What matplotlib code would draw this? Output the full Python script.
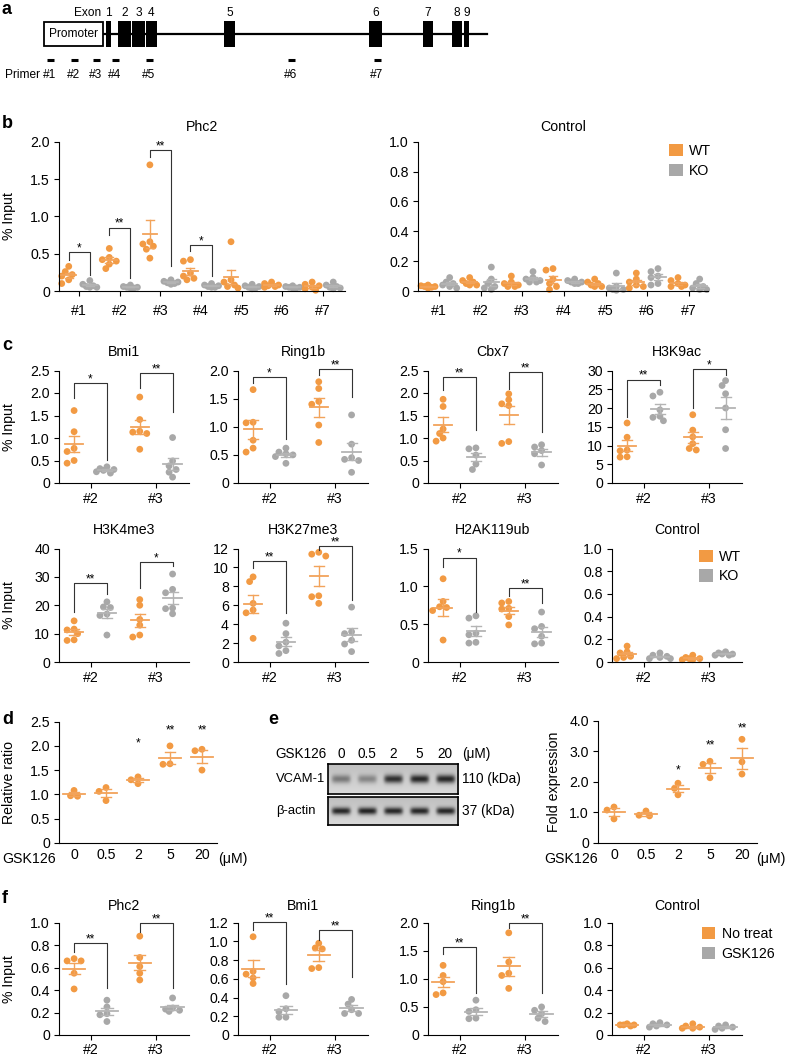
import numpy as np
import matplotlib
matplotlib.use('Agg')
import matplotlib.pyplot as plt
from matplotlib.patches import Rectangle, Patch
from matplotlib import font_manager

plt.rcParams['font.family'] = ['Liberation Sans', 'DejaVu Sans']
plt.rcParams['font.size'] = 10.2
plt.rcParams['axes.linewidth'] = 0.8
plt.rcParams['xtick.labelsize'] = 10.2
plt.rcParams['ytick.labelsize'] = 10.2

installed = {f.name for f in font_manager.fontManager.ttflist}
if 'Liberation Sans Narrow' in installed:
    NARROW = dict(family=['Liberation Sans Narrow', 'DejaVu Sans'], fontsize=9.6)
else:
    NARROW = dict(family=['Liberation Sans', 'DejaVu Sans'], fontsize=8.6)

ORANGE = '#F29A43'
ORANGE_LINE = '#F2A35A'
GRAY = '#A8A8A8'
GRAY_LINE = '#B4B4B4'

# ---- panel a: gene schematic (positions along the locus) ----
promoter_span = (44, 103)
gene_line = (103, 487)
exon_start = [106, 118, 132, 146, 224, 369, 423, 452, 464]
exon_end = [111, 131, 145, 157, 235, 382, 433, 462, 469]
exon_labels = ['1', '2', '3', '4', '5', '6', '7', '8', '9']
primer_pos = [50, 74, 96, 115, 149, 291, 377]
primer_labels = ['#1', '#2', '#3', '#4', '#5', '#6', '#7']

# ---- panel b ----
b_sites = ['#1', '#2', '#3', '#4', '#5', '#6', '#7']
b_phc2_wt = [
    [0.33, 0.26, 0.22, 0.20, 0.15, 0.10],
    [0.57, 0.45, 0.42, 0.40, 0.36, 0.30],
    [1.69, 0.66, 0.63, 0.60, 0.56, 0.44],
    [0.42, 0.40, 0.24, 0.20, 0.17, 0.15],
    [0.66, 0.15, 0.12, 0.08, 0.06, 0.04],
    [0.12, 0.10, 0.08, 0.07, 0.06, 0.05],
    [0.12, 0.09, 0.07, 0.05, 0.03, 0.01],
]
b_phc2_ko = [
    [0.14, 0.09, 0.07, 0.06, 0.05, 0.05],
    [0.08, 0.06, 0.05, 0.05, 0.04, 0.04],
    [0.15, 0.13, 0.12, 0.11, 0.10, 0.09],
    [0.10, 0.08, 0.07, 0.06, 0.05, 0.05],
    [0.09, 0.07, 0.06, 0.05, 0.04, 0.03],
    [0.07, 0.06, 0.05, 0.05, 0.04, 0.04],
    [0.12, 0.08, 0.06, 0.05, 0.04, 0.03],
]
b_phc2_brackets = [(0, 0.52, 0.41, 0.22, '*'), (1, 0.85, 0.75, 0.18, '**'),
                   (2, 1.89, 1.80, 0.33, '**'), (3, 0.62, 0.53, 0.20, '*')]
b_ctrl_wt = [
    [0.04, 0.035, 0.03, 0.03, 0.025, 0.02],
    [0.09, 0.07, 0.06, 0.05, 0.04, 0.04],
    [0.10, 0.06, 0.05, 0.04, 0.03, 0.03],
    [0.15, 0.14, 0.08, 0.05, 0.03, 0.01],
    [0.08, 0.06, 0.05, 0.04, 0.03, 0.03],
    [0.12, 0.08, 0.06, 0.04, 0.03, 0.02],
    [0.09, 0.07, 0.05, 0.04, 0.03, 0.03],
]
b_ctrl_ko = [
    [0.09, 0.06, 0.05, 0.04, 0.03, 0.02],
    [0.16, 0.08, 0.05, 0.03, 0.02, 0.01],
    [0.13, 0.09, 0.08, 0.07, 0.06, 0.06],
    [0.08, 0.07, 0.06, 0.06, 0.05, 0.05],
    [0.12, 0.03, 0.02, 0.01, 0.01, 0.005],
    [0.15, 0.13, 0.10, 0.09, 0.05, 0.04],
    [0.08, 0.05, 0.03, 0.02, 0.01, 0.01],
]

# ---- panel c ----
c_sites = ['#2', '#3']
bmi1_wt = [[1.61, 1.14, 0.77, 0.70, 0.50, 0.44], [1.91, 1.41, 1.15, 1.13, 1.10, 0.75]]
bmi1_ko = [[0.36, 0.32, 0.30, 0.28, 0.25, 0.22], [1.01, 0.49, 0.38, 0.30, 0.24, 0.13]]
bmi1_brackets = [(0, 2.23, 1.88, 0.51, '*'), (1, 2.45, 2.12, 1.58, '**')]
ring1b_wt = [[1.66, 1.08, 1.07, 0.76, 0.62, 0.55], [1.80, 1.68, 1.45, 1.40, 1.03, 0.72]]
ring1b_ko = [[0.62, 0.55, 0.52, 0.50, 0.47, 0.35], [1.21, 0.69, 0.45, 0.42, 0.40, 0.19]]
ring1b_brackets = [(0, 1.89, 1.77, 0.79, '*'), (1, 2.02, 1.92, 1.53, '**')]
cbx7_wt = [[1.86, 1.70, 1.20, 1.10, 1.00, 0.93], [1.98, 1.85, 1.76, 1.72, 0.92, 0.88]]
cbx7_ko = [[0.78, 0.76, 0.62, 0.42, 0.30], [0.85, 0.80, 0.72, 0.65, 0.40]]
cbx7_brackets = [(0, 2.36, 2.07, 1.18, '**'), (1, 2.47, 2.10, 1.14, '**')]
h3k9ac_wt = [[16.0, 12.2, 8.8, 8.6, 7.0, 6.9], [18.2, 14.1, 12.3, 10.5, 9.2, 8.8]]
h3k9ac_ko = [[24.2, 23.2, 19.5, 17.8, 17.5, 16.6], [27.3, 26.0, 23.8, 20.0, 14.2, 9.2]]
h3k9ac_brackets = [(0, 27.6, 17.7, 26.1, '**'), (1, 30.4, 19.9, 28.8, '*')]
h3k4me3_wt = [[14.5, 11.6, 11.3, 10.0, 7.8, 7.6], [22.0, 20.0, 15.0, 13.0, 9.5, 8.8]]
h3k4me3_ko = [[21.2, 19.4, 19.2, 16.9, 16.4, 9.5], [31.0, 25.6, 24.4, 19.0, 18.8, 17.0]]
h3k4me3_brackets = [(0, 27.7, 17.5, 24.0, '**'), (1, 35.3, 26.0, 33.9, '*')]
h3k27me3_wt = [[9.0, 8.5, 6.2, 5.5, 5.2, 2.5], [11.6, 11.4, 11.2, 7.0, 6.9, 6.2]]
h3k27me3_ko = [[4.1, 3.0, 2.1, 1.7, 1.2, 0.9], [5.8, 3.2, 3.0, 2.3, 1.9, 1.1]]
h3k27me3_brackets = [(0, 10.7, 9.9, 5.15, '**'), (1, 12.3, 11.8, 6.55, '**')]
h2ak119ub_wt = [[1.10, 0.80, 0.73, 0.72, 0.68, 0.29], [0.80, 0.78, 0.71, 0.70, 0.60, 0.49]]
h2ak119ub_ko = [[0.61, 0.58, 0.38, 0.36, 0.26, 0.25], [0.66, 0.47, 0.44, 0.34, 0.25, 0.24]]
h2ak119ub_brackets = [(0, 1.38, 1.26, 0.66, '*'), (1, 0.98, 0.87, 0.78, '**')]
c_ctrl_wt = [[0.14, 0.09, 0.08, 0.05, 0.04, 0.03], [0.06, 0.04, 0.03, 0.03, 0.02, 0.02]]
c_ctrl_ko = [[0.08, 0.06, 0.05, 0.04, 0.03, 0.03], [0.09, 0.08, 0.07, 0.07, 0.06, 0.06]]

# ---- panels d / e ----
gsk_doses = ['0', '0.5', '2', '5', '20']
d_ratio = [[1.08, 0.97, 0.96], [1.14, 1.06, 0.87], [1.36, 1.30, 1.22],
           [2.00, 1.62, 1.63], [1.93, 1.90, 1.50]]
d_stars = ['', '', '*', '**', '**']
d_star_y = [0, 0, 1.98, 2.25, 2.25]
e_fold = [[1.17, 1.07, 0.78], [1.04, 0.90, 0.88], [1.95, 1.78, 1.57],
          [2.67, 2.57, 2.13], [3.39, 2.65, 2.25]]
e_stars = ['', '', '*', '**', '**']
e_star_y = [0, 0, 2.26, 3.08, 3.64]
vcam_level = [0.45, 0.38, 0.85, 0.9, 0.9]
actin_level = [0.9, 0.92, 0.9, 0.9, 0.9]

# ---- panel f ----
f_phc2_wt = [[0.68, 0.66, 0.66, 0.55, 0.41], [0.88, 0.69, 0.61, 0.55, 0.49]]
f_phc2_ko = [[0.31, 0.25, 0.19, 0.18, 0.12], [0.33, 0.24, 0.23, 0.22, 0.21]]
f_phc2_brackets = [(0, 0.82, 0.74, 0.42, '**'), (1, 1.0, 0.92, 0.42, '**')]
f_bmi1_wt = [[1.05, 0.68, 0.65, 0.61, 0.55], [0.98, 0.93, 0.92, 0.72, 0.71]]
f_bmi1_ko = [[0.42, 0.28, 0.25, 0.19, 0.19], [0.38, 0.33, 0.27, 0.23, 0.23]]
f_bmi1_brackets = [(0, 1.21, 1.12, 0.55, '**'), (1, 1.12, 1.02, 0.62, '**')]
f_ring1b_wt = [[1.24, 1.06, 0.95, 0.75, 0.72], [1.82, 1.30, 1.10, 1.06, 0.83]]
f_ring1b_ko = [[0.62, 0.45, 0.42, 0.30, 0.29], [0.50, 0.44, 0.38, 0.30, 0.24]]
f_ring1b_brackets = [(0, 1.57, 1.45, 0.75, '**'), (1, 1.99, 1.90, 0.75, '**')]
f_ctrl_wt = [[0.10, 0.09, 0.09, 0.09, 0.08], [0.10, 0.08, 0.07, 0.06, 0.06]]
f_ctrl_ko = [[0.11, 0.10, 0.09, 0.08, 0.07], [0.09, 0.08, 0.07, 0.06, 0.05]]

W, H = 786, 1056
fig = plt.figure(figsize=(W / 100, H / 100), dpi=100)


def add_ax(left, top, width, height):
    return fig.add_axes([left / W, 1 - (top + height) / H, width / W, height / H])


def fig_text(x, y, s, **kw):
    fig.text(x / W, 1 - y / H, s, **kw)


def style_axes(ax, xlabels, xlim, ymax, ystep, yfmt, xpad, xlen=3.5):
    ax.set_xlim(*xlim)
    ax.set_ylim(0, ymax)
    ax.spines[['top', 'right']].set_visible(False)
    ax.set_xticks(range(len(xlabels)))
    ax.set_xticklabels(xlabels)
    yt = np.arange(0, ymax + ystep / 2, ystep)
    ax.set_yticks(yt)
    ax.set_yticklabels(['0'] + [yfmt.format(v) for v in yt[1:]])
    ax.tick_params(axis='y', direction='out', length=3.5, width=0.8, pad=3)
    ax.tick_params(axis='x', direction='out', length=xlen, width=0.8, pad=xpad)


def ylabel_at(ax, text, px_right):
    ax.set_ylabel(text, fontsize=10.2)
    bb = ax.get_position()
    ax.yaxis.set_label_coords((px_right / W - bb.x0) / bb.width, 0.5)


def swarm_x(ax, x0, vals, max_k, d=7.0):
    # simple beeswarm: put each dot at the first horizontal slot that does not collide
    pts = ax.transData.transform(np.column_stack([np.full(len(vals), x0), vals]))
    px0 = pts[0, 0]
    ys = pts[:, 1]
    xs = np.zeros(len(vals))
    placed = []
    slots = [0]
    for k in range(1, max_k + 1):
        slots += [-k, k]
    for i in np.argsort(-ys):
        best, best_score = px0, -1.0
        for k in slots:
            cx = px0 + k * d * 0.5
            score = min((np.hypot(cx - px, ys[i] - py) for px, py in placed), default=1e9)
            if score >= d * 0.8:
                best = cx
                break
            if score > best_score:
                best, best_score = cx, score
        placed.append((best, ys[i]))
        xs[i] = best
    return ax.transData.inverted().transform(np.column_stack([xs, ys]))[:, 0]


def draw_dots(ax, x, vals, color, line_color, mean_hw, cap_hw, max_k=3):
    vals = np.asarray(vals, dtype=float)
    xs = swarm_x(ax, x, vals, max_k)
    ax.scatter(xs, vals, s=24, color=color, edgecolors='none', zorder=2, clip_on=False)
    m = vals.mean()
    sem = vals.std(ddof=1) / np.sqrt(len(vals))
    ax.plot([x - mean_hw, x + mean_hw], [m, m], color=line_color, lw=1.3, zorder=3)
    ax.plot([x, x], [m - sem, m + sem], color=line_color, lw=1.0, zorder=3)
    for yy in (m - sem, m + sem):
        ax.plot([x - cap_hw, x + cap_hw], [yy, yy], color=line_color, lw=1.0, zorder=3)


def draw_pairs(ax, wt, ko, off, mean_hw, cap_hw, max_k=3):
    for i in range(len(wt)):
        draw_dots(ax, i - off, wt[i], ORANGE, ORANGE_LINE, mean_hw, cap_hw, max_k)
        draw_dots(ax, i + off, ko[i], GRAY, GRAY_LINE, mean_hw, cap_hw, max_k)


def draw_brackets(ax, brackets, off):
    for site, top, lb, rb, mark in brackets:
        xl, xr = site - off, site + off
        ax.plot([xl, xl, xr, xr], [lb, top, top, rb], color='#333333', lw=0.8,
                clip_on=False, zorder=4)
        ax.annotate(mark, ((xl + xr) / 2, top), xytext=(0, 0.5), textcoords='offset points',
                    ha='center', va='baseline', fontsize=8.5, annotation_clip=False)


def add_legend(ax, labels, x, y):
    handles = [Patch(facecolor=ORANGE, edgecolor='none'), Patch(facecolor=GRAY, edgecolor='none')]
    ax.legend(handles, labels, loc='upper left', bbox_to_anchor=(x, y), frameon=False,
              borderaxespad=0, borderpad=0, handlelength=0.95, handleheight=0.95,
              handletextpad=0.45, labelspacing=0.4, fontsize=10.2)


# ---------------- panel a ----------------
ax_a = add_ax(0, 0, W, 88)
ax_a.set_xlim(0, W)
ax_a.set_ylim(88, 0)
ax_a.axis('off')
ax_a.plot(gene_line, [33.5, 33.5], color='black', lw=1.6, zorder=1)
ax_a.add_patch(Rectangle((promoter_span[0], 21.7), promoter_span[1] - promoter_span[0], 24,
                         facecolor='white', edgecolor='black', lw=1.3, zorder=2))
ax_a.text(sum(promoter_span) / 2, 34, 'Promoter', ha='center', va='center', **NARROW)
for s, e, lab in zip(exon_start, exon_end, exon_labels):
    ax_a.add_patch(Rectangle((s, 21), e - s, 25.5, facecolor='black', lw=0, zorder=2))
    ax_a.text((s + e) / 2, 13, lab, ha='center', va='center', **NARROW)
ax_a.text(87.5, 13, 'Exon', ha='center', va='center', **NARROW)
for p, lab in zip(primer_pos, primer_labels):
    ax_a.plot([p - 3.5, p + 3.5], [60, 60], color='black', lw=2.2, solid_capstyle='butt')
    ax_a.text(p, 75, lab, ha='center', va='center', **NARROW)
ax_a.text(5, 75, 'Primer', ha='left', va='center', **NARROW)

# ---------------- panel b ----------------
ax = add_ax(59, 141.7, 286, 149.3)
style_axes(ax, b_sites, (-0.5, 6.55), 2.0, 0.5, '{:.1f}', xpad=6.0)
draw_pairs(ax, b_phc2_wt, b_phc2_ko, 0.26, 0.18, 0.1, max_k=2)
draw_brackets(ax, b_phc2_brackets, 0.26)
ax.set_title('Phc2', fontsize=10.2, pad=7.5)
ylabel_at(ax, '% Input', 16)

ax = add_ax(418, 141.7, 290, 149.3)
style_axes(ax, b_sites, (-0.5, 6.46), 1.0, 0.2, '{:.1f}', xpad=6.0)
draw_pairs(ax, b_ctrl_wt, b_ctrl_ko, 0.26, 0.18, 0.1, max_k=2)
ax.set_title('Control', fontsize=10.2, pad=7.5)
add_legend(ax, ['WT', 'KO'], 0.866, 0.985)

# ---------------- panel c ----------------
c_lefts = [59, 238, 428, 612]
c_rows = [
    (370.5, 112.5, [
        ('Bmi1', bmi1_wt, bmi1_ko, bmi1_brackets, 2.5, 0.5, '{:.1f}'),
        ('Ring1b', ring1b_wt, ring1b_ko, ring1b_brackets, 2.0, 0.5, '{:.1f}'),
        ('Cbx7', cbx7_wt, cbx7_ko, cbx7_brackets, 2.5, 0.5, '{:.1f}'),
        ('H3K9ac', h3k9ac_wt, h3k9ac_ko, h3k9ac_brackets, 30, 5, '{:.0f}'),
    ]),
    (548.5, 113.5, [
        ('H3K4me3', h3k4me3_wt, h3k4me3_ko, h3k4me3_brackets, 40, 10, '{:.0f}'),
        ('H3K27me3', h3k27me3_wt, h3k27me3_ko, h3k27me3_brackets, 12, 2, '{:.0f}'),
        ('H2AK119ub', h2ak119ub_wt, h2ak119ub_ko, h2ak119ub_brackets, 1.5, 0.5, '{:.1f}'),
        ('Control', c_ctrl_wt, c_ctrl_ko, [], 1.0, 0.2, '{:.1f}'),
    ]),
]
for top, height, panels in c_rows:
    for left, (name, wt, ko, br, ymax, ystep, fmt) in zip(c_lefts, panels):
        ax = add_ax(left, top, 130, height)
        style_axes(ax, c_sites, (-0.48, 1.5), ymax, ystep, fmt, xpad=3.0)
        draw_pairs(ax, wt, ko, 0.25, 0.14, 0.075)
        draw_brackets(ax, br, 0.25)
        ax.set_title(name, fontsize=10.2, pad=10.5)
        if left == c_lefts[0]:
            ylabel_at(ax, '% Input', 16)
        if name == 'Control':
            add_legend(ax, ['WT', 'KO'], 0.67, 0.99)

# ---------------- panel d ----------------
ax = add_ax(59, 721.7, 158, 121)
style_axes(ax, gsk_doses, (-0.47, 4.47), 2.5, 0.5, '{:.1f}', xpad=4.0, xlen=0)
for i, vals in enumerate(d_ratio):
    draw_dots(ax, i, vals, ORANGE, ORANGE_LINE, 0.33, 0.16)
for i, (s, yv) in enumerate(zip(d_stars, d_star_y)):
    if s:
        ax.text(i, yv, s, ha='center', va='baseline', fontsize=8.5)
ylabel_at(ax, 'Relative ratio', 16)
fig_text(2, 859, 'GSK126', ha='left', va='center')
fig_text(218, 859, '(\u03bcM)', ha='left', va='center')


# ---------------- panel e: blot ----------------
def blot_image(levels, h, w, band_h):
    xs = np.linspace(-0.5, len(levels) - 0.5, w)
    ys = np.linspace(-1, 1, h)
    img = np.full((h, w), 0.80) + 0.05 * ys[:, None]
    for lane, level in enumerate(levels):
        px = np.exp(-((xs - lane) / 0.36) ** 6)
        py = np.exp(-(ys / band_h) ** 2)
        img -= level * 0.72 * np.outer(py, px)
    return np.clip(img, 0, 1)


for top, h, levels, band_h, label, size in [(764, 30, vcam_level, 0.28, 'VCAM-1', '110 (kDa)'),
                                            (797, 28, actin_level, 0.26, '\u03b2-actin', '37 (kDa)')]:
    axb = add_ax(328, top, 130, h)
    axb.imshow(blot_image(levels, h * 3, 390, band_h), cmap='gray', vmin=0, vmax=1,
               aspect='auto', extent=(-0.5, 4.5, -1, 1), interpolation='bilinear')
    axb.set_xticks([])
    axb.set_yticks([])
    for sp in axb.spines.values():
        sp.set_linewidth(1.2)
    fig_text(276, top + h / 2, label, ha='left', va='center', fontsize=9.4)
    fig_text(462, top + h / 2, size, ha='left', va='center', fontsize=9.8)
    if label == 'VCAM-1':
        for i, dose in enumerate(gsk_doses):
            axb.text(i, 1.0 + 10 / h, dose, transform=axb.get_xaxis_transform(),
                     ha='center', va='center', fontsize=9.8)
fig_text(275, 754, 'GSK126', ha='left', va='center', fontsize=9.8)
fig_text(462, 754, '(\u03bcM)', ha='left', va='center', fontsize=9.8)

# ---------------- panel e: quantification ----------------
ax = add_ax(598, 720.7, 159, 122)
style_axes(ax, gsk_doses, (-0.5, 4.47), 4.0, 1.0, '{:.1f}', xpad=4.0, xlen=0)
for i, vals in enumerate(e_fold):
    draw_dots(ax, i, vals, ORANGE, ORANGE_LINE, 0.33, 0.16)
for i, (s, yv) in enumerate(zip(e_stars, e_star_y)):
    if s:
        ax.text(i, yv, s, ha='center', va='baseline', fontsize=8.5)
ylabel_at(ax, 'Fold expression', 561)
fig_text(598, 859, 'GSK126', ha='right', va='center')
fig_text(756, 859, '(\u03bcM)', ha='left', va='center')

# ---------------- panel f ----------------
f_panels = [
    ('Phc2', f_phc2_wt, f_phc2_ko, f_phc2_brackets, 1.0, 0.2),
    ('Bmi1', f_bmi1_wt, f_bmi1_ko, f_bmi1_brackets, 1.2, 0.2),
    ('Ring1b', f_ring1b_wt, f_ring1b_ko, f_ring1b_brackets, 2.0, 0.5),
    ('Control', f_ctrl_wt, f_ctrl_ko, [], 1.0, 0.2),
]
for left, (name, wt, ko, br, ymax, ystep) in zip(c_lefts, f_panels):
    ax = add_ax(left, 922.7, 130, 112.3)
    style_axes(ax, c_sites, (-0.48, 1.5), ymax, ystep, '{:.1f}', xpad=2.5)
    draw_pairs(ax, wt, ko, 0.25, 0.17, 0.085)
    draw_brackets(ax, br, 0.25)
    ax.set_title(name, fontsize=10.2, pad=9.5)
    if left == c_lefts[0]:
        ylabel_at(ax, '% Input', 16)
    if name == 'Control':
        add_legend(ax, ['No treat', 'GSK126'], 0.69, 0.96)

# panel letters
fig_text(2, 0.5, 'a', fontsize=13, fontweight='bold', va='top', ha='left')
for letter, x, y in [('b', 2, 128), ('c', 2, 350), ('d', 2, 724),
                     ('e', 268, 724), ('f', 2, 903)]:
    fig_text(x, y, letter, fontsize=13, fontweight='bold', va='baseline', ha='left')

fig.savefig('out.png', dpi=100)
